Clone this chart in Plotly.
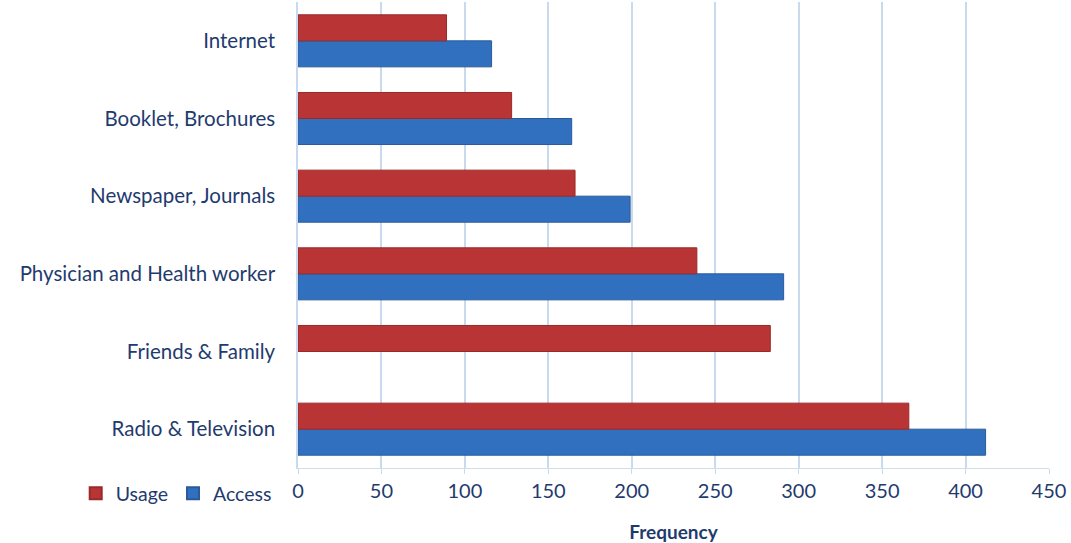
import plotly.graph_objects as go

categories = ["Radio & Television", "Friends & Family", "Physician and Health worker",
              "Newspaper, Journals", "Booklet, Brochures", "Internet"]
usage = [366, 283, 239, 166, 128, 89]
access = [412, None, 291, 199, 164, 116]
x_ticks = [0, 50, 100, 150, 200, 250, 300, 350, 400, 450]

text_color = "#1F3B6E"
fnt = "Lato, 'Open Sans', sans-serif"

fig = go.Figure()
fig.add_trace(go.Bar(
    y=categories, x=access, orientation="h", name="Access",
    marker=dict(color="#3170BE", line=dict(color="#2A5A9A", width=1)),
    legendrank=2,
))
fig.add_trace(go.Bar(
    y=categories, x=usage, orientation="h", name="Usage",
    marker=dict(color="#B93434", line=dict(color="#9A2A2A", width=1)),
    legendrank=1,
))

fig.update_layout(
    width=1071, height=543,
    margin=dict(l=298, r=22, t=2, b=75),
    paper_bgcolor="white", plot_bgcolor="white",
    barmode="group", bargap=0.33, bargroupgap=0,
    font=dict(family=fnt, color=text_color, size=20),
    legend=dict(orientation="h", x=-0.296, xanchor="left", y=-0.055, yanchor="middle",
                font=dict(size=19.5, color=text_color), itemwidth=30,
                traceorder="normal", tracegroupgap=0, itemsizing="constant"),
    showlegend=True,
)
fig.update_xaxes(
    range=[0, 450], tickvals=x_ticks, ticktext=[str(v) for v in x_ticks],
    showgrid=True, gridcolor="#C9DAEE", gridwidth=1.5,
    zeroline=False, showline=True, linecolor="#D0DCEA", linewidth=1,
    ticks="outside", ticklen=5, tickcolor="#C9DAEE",
    tickfont=dict(size=20, color=text_color),
    title=dict(text="<b>Frequency</b>", font=dict(size=19, color=text_color), standoff=24),
)
fig.update_yaxes(
    categoryorder="array", categoryarray=categories,
    showgrid=False, zeroline=False, showline=True, linecolor="#C9DAEE", linewidth=1.5,
    ticks="", ticklabelstandoff=17,
    tickfont=dict(size=20.5, color=text_color),
)

fig.write_html("out.html")
